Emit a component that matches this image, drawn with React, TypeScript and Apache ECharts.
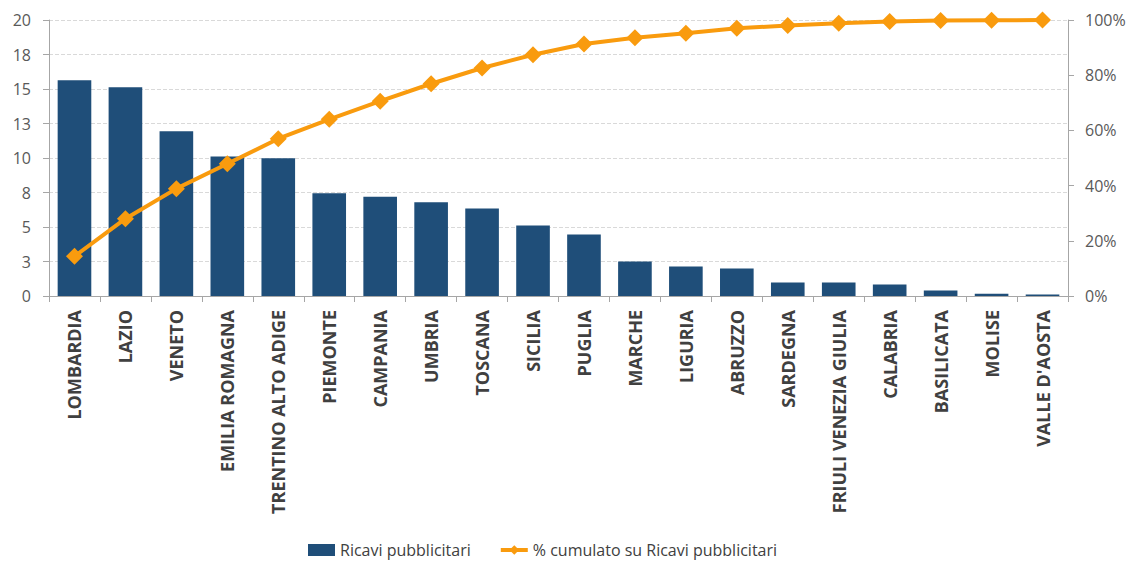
import React, { useEffect, useRef } from "react";
import * as echarts from "echarts";

const categories = [
  "LOMBARDIA", "LAZIO", "VENETO", "EMILIA ROMAGNA", "TRENTINO ALTO ADIGE",
  "PIEMONTE", "CAMPANIA", "UMBRIA", "TOSCANA", "SICILIA", "PUGLIA", "MARCHE",
  "LIGURIA", "ABRUZZO", "SARDEGNA", "FRIULI VENEZIA GIULIA", "CALABRIA",
  "BASILICATA", "MOLISE", "VALLE D'AOSTA",
];

const ricavi = [
  15.63, 15.12, 11.93, 10.11, 9.99, 7.45, 7.19, 6.8, 6.34, 5.11,
  4.46, 2.5, 2.13, 1.99, 0.97, 0.97, 0.83, 0.39, 0.17, 0.1,
];

const cumulato = [
  14.4, 28.0, 38.9, 47.9, 57.0, 64.0, 70.6, 76.9, 82.6, 87.4,
  91.3, 93.6, 95.2, 97.0, 98.0, 98.8, 99.5, 99.8, 99.9, 100,
];

const leftMax = 20;
const leftInterval = 2.5;
const rightMax = 100;
const rightInterval = 20;

const FONT = "'Open Sans', 'Noto Sans', sans-serif";
const BLUE = "#1F4E79";
const ORANGE = "#F99B0E";
const AXIS = "#A6A6A6";
const TEXT = "#595959";

export default function App() {
  const ref = useRef<HTMLDivElement>(null);
  useEffect(() => {
    if (!ref.current) return;
    const chart = echarts.init(ref.current, null, { renderer: "svg" });
    chart.setOption({
      animation: false,
      textStyle: { fontFamily: FONT },
      grid: { left: 49, right: 65, top: 20, bottom: 267, containLabel: false },
      legend: {
        bottom: 0,
        left: 303,
        itemGap: 28,
        itemWidth: 27,
        itemHeight: 12,
        textStyle: { fontFamily: FONT, fontSize: 16, color: "#404040" },
        data: [
          { name: "Ricavi pubblicitari", icon: "rect" },
          { name: "% cumulato su Ricavi pubblicitari", lineStyle: { width: 4 } },
        ],
      },
      xAxis: {
        type: "category",
        data: categories,
        boundaryGap: true,
        axisLine: { show: true, lineStyle: { color: AXIS } },
        axisTick: { show: true, alignWithLabel: false, length: 6, lineStyle: { color: AXIS } },
        axisLabel: {
          rotate: 90,
          interval: 0,
          margin: 14,
          fontFamily: FONT,
          fontSize: 18,
          fontWeight: "bold",
          color: "#404040",
        },
      },
      yAxis: [
        {
          type: "value",
          min: 0,
          max: leftMax,
          interval: leftInterval,
          axisLine: { show: true, lineStyle: { color: AXIS } },
          axisTick: { show: true, length: 6, lineStyle: { color: AXIS } },
          axisLabel: {
            margin: 18,
            fontFamily: FONT,
            fontSize: 16,
            color: TEXT,
            formatter: (v: number) => String(Math.round(v)),
          },
          splitLine: { show: true, lineStyle: { color: "#D9D9D9", type: "dashed" } },
        },
        {
          type: "value",
          min: 0,
          max: rightMax,
          interval: rightInterval,
          position: "right",
          axisLine: { show: true, lineStyle: { color: AXIS } },
          axisTick: { show: true, length: 6, lineStyle: { color: AXIS } },
          axisLabel: {
            margin: 17,
            fontFamily: FONT,
            fontSize: 16,
            color: TEXT,
            formatter: "{value}%",
          },
          splitLine: { show: false },
        },
      ],
      series: [
        {
          name: "Ricavi pubblicitari",
          type: "bar",
          data: ricavi,
          yAxisIndex: 0,
          barCategoryGap: "34%",
          itemStyle: { color: BLUE },
        },
        {
          name: "% cumulato su Ricavi pubblicitari",
          type: "line",
          data: cumulato,
          yAxisIndex: 1,
          symbol: "diamond",
          symbolSize: 17,
          lineStyle: { color: ORANGE, width: 4 },
          itemStyle: { color: ORANGE },
        },
      ],
    });
    return () => chart.dispose();
  }, []);
  return (
    <div
      ref={ref}
      style={{ position: "fixed", left: 0, top: 0, width: 1133, height: 563, background: "#fff" }}
    />
  );
}
